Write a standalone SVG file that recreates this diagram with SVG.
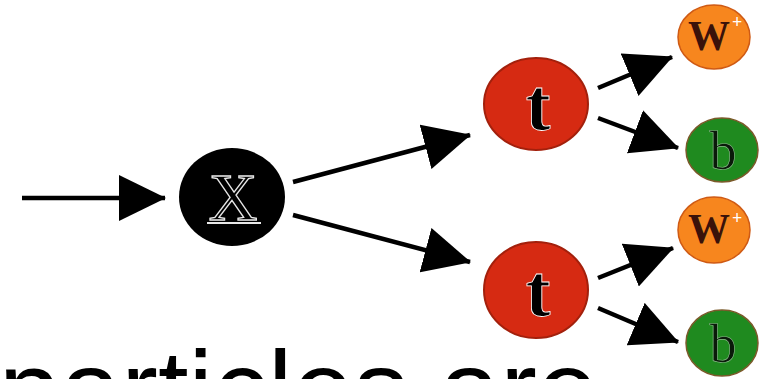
<svg xmlns="http://www.w3.org/2000/svg" width="780" height="379" viewBox="0 0 780 379">
<style>
.edge{stroke:#000;stroke-width:4.5;fill:none;marker-end:url(#ah)}
.tnode{fill:#d62a12;stroke:#a3200c;stroke-width:2}
.wnode{fill:#f7861e;stroke:#cf5a14;stroke-width:1.5}
.bnode{fill:#1f8a1f;stroke:#7a5a2a;stroke-width:1.5}
.tl{font-family:"Liberation Serif",serif;font-weight:bold;font-size:74px;fill:#000;stroke:#fff;stroke-width:0.8;text-anchor:middle}
.wl{font-family:"Liberation Serif",serif;font-weight:bold;font-size:42px;fill:#3a120a;text-anchor:middle}
.wp{font-family:"Liberation Serif",serif;font-weight:bold;font-size:18px;fill:#fff}
.bl{font-family:"Liberation Serif",serif;font-size:54px;fill:#0a1a0a;stroke:#8fc08f;stroke-width:0.6;text-anchor:middle}
</style>
<defs>
<marker id="ah" markerUnits="userSpaceOnUse" markerWidth="48" markerHeight="46" refX="46" refY="23" orient="auto">
<path d="M0,0 L47,23 L0,46 z" fill="#000"/>
</marker>
</defs>
<rect width="780" height="379" fill="#fff"/>
<g id="connectors">
<line class="edge" x1="22" y1="198" x2="165" y2="198"/>
<line class="edge" x1="293" y1="182" x2="470" y2="135"/>
<line class="edge" x1="293" y1="215" x2="470" y2="262"/>
<line class="edge" x1="598" y1="88" x2="672" y2="57"/>
<line class="edge" x1="598" y1="118" x2="678" y2="148"/>
<line class="edge" x1="598" y1="278" x2="673" y2="248"/>
<line class="edge" x1="598" y1="308" x2="678" y2="342"/>
</g>
<g id="node-X">
<ellipse cx="232" cy="197" rx="53" ry="49" fill="#000"/>
<text x="233" y="220" font-family="Liberation Serif,serif" font-size="68" fill="#000" stroke="#e8e8e8" stroke-width="1.3" text-anchor="middle">X</text>
<line x1="207" y1="223" x2="261" y2="223" stroke="#e8e8e8" stroke-width="2"/>
</g>
<g id="node-t1">
<ellipse class="tnode" cx="536" cy="104" rx="52" ry="46"/>
<text class="tl" x="538" y="130">t</text>
</g>
<g id="node-t2">
<ellipse class="tnode" cx="536" cy="290" rx="52" ry="48"/>
<text class="tl" x="538" y="316">t</text>
</g>
<g id="node-W1">
<ellipse class="wnode" cx="714" cy="37" rx="36" ry="32"/>
<text class="wl" x="709" y="50">W</text>
<text class="wp" x="732" y="28">+</text>
</g>
<g id="node-b1">
<ellipse class="bnode" cx="722" cy="150" rx="36" ry="32"/>
<text class="bl" x="723" y="169">b</text>
</g>
<g id="node-W2">
<ellipse class="wnode" cx="714" cy="230" rx="36" ry="33"/>
<text class="wl" x="709" y="243">W</text>
<text class="wp" x="732" y="224">+</text>
</g>
<g id="node-b2">
<ellipse class="bnode" cx="722" cy="343" rx="36" ry="33"/>
<text class="bl" x="723" y="362">b</text>
</g>
<text x="-1" y="427" font-family="Liberation Sans,Arial,sans-serif" font-size="110" fill="#000">particles are</text>
</svg>
